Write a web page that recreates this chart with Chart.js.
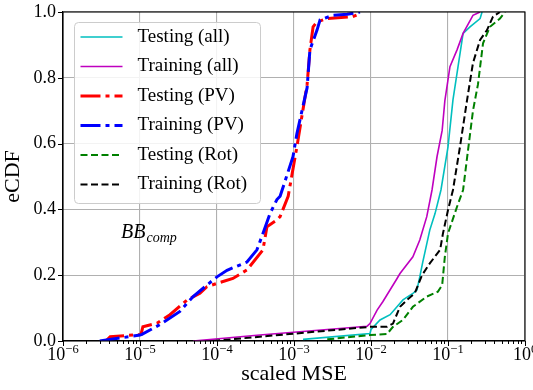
<!DOCTYPE html>
<html><head><meta charset="utf-8">
<script src="https://cdn.jsdelivr.net/npm/chart.js@4/dist/chart.umd.min.js"></script>
<style>html,body{margin:0;padding:0;background:#fff}#wrap{width:533px;height:390px;position:relative}</style>
</head><body><div id="wrap"><canvas id="c" width="533" height="390"></canvas></div>
<script>
// ---- data ----
const seriesLabels = ['Testing (all)', 'Training (all)', 'Testing (PV)', 'Training (PV)', 'Testing (Rot)', 'Training (Rot)'];

const testAllX = [1.31e-3, 9.7e-3, 1.0e-2, 1.31e-2, 1.77e-2, 2.6e-2, 3.5e-2, 3.95e-2, 4.3e-2, 4.7e-2, 5.8e-2, 6.8e-2, 8.1e-2, 0.100, 0.116, 0.135, 0.157, 0.193, 0.261, 0.277];
const testAllY = [0.005, 0.023, 0.035, 0.064, 0.080, 0.125, 0.145, 0.155, 0.195, 0.240, 0.337, 0.388, 0.459, 0.590, 0.733, 0.834, 0.935, 0.955, 0.980, 1.000];

const trainAllX = [4.9e-5, 3.6e-4, 8.9e-3, 9.7e-3, 1.2e-2, 1.43e-2, 2.18e-2, 2.38e-2, 3.5e-2, 4.3e-2, 5.3e-2, 6.2e-2, 7.2e-2, 8.4e-2, 9.1e-2, 0.106, 0.131, 0.157, 0.211, 0.261];
const trainAllY = [0.000, 0.018, 0.045, 0.053, 0.094, 0.120, 0.190, 0.205, 0.256, 0.307, 0.378, 0.459, 0.560, 0.640, 0.730, 0.834, 0.885, 0.935, 0.990, 1.000];

const testPvX = [3.6e-6, 4.1e-6, 8.1e-6, 1.03e-5, 1.09e-5, 1.66e-5, 2.45e-5, 4.1e-5, 6.0e-5, 7.4e-5, 1.0e-4, 1.61e-4, 2.45e-4, 3.95e-4, 4.45e-4, 6.0e-4, 6.6e-4, 8.4e-4, 1.09e-3, 1.48e-3, 1.61e-3, 1.77e-3, 1.99e-3, 2.7e-3, 5.8e-3, 7.2e-3];
const testPvY = [0.000, 0.013, 0.018, 0.020, 0.043, 0.054, 0.080, 0.125, 0.145, 0.165, 0.175, 0.190, 0.216, 0.277, 0.347, 0.368, 0.378, 0.440, 0.590, 0.780, 0.885, 0.955, 0.970, 0.980, 0.986, 0.995];

const trainPvX = [3.0e-6, 1.0e-5, 1.06e-5, 1.82e-5, 3.3e-5, 4.9e-5, 7.4e-5, 1.0e-4, 1.35e-4, 2.45e-4, 3.3e-4, 3.95e-4, 4.9e-4, 6.0e-4, 6.6e-4, 9.7e-4, 1.09e-3, 1.48e-3, 1.61e-3, 1.99e-3, 2.18e-3, 3.2e-3, 4.9e-3, 7.2e-3];
const trainPvY = [0.000, 0.018, 0.020, 0.050, 0.090, 0.135, 0.170, 0.195, 0.215, 0.240, 0.277, 0.327, 0.388, 0.430, 0.440, 0.560, 0.630, 0.770, 0.885, 0.945, 0.976, 0.990, 0.993, 1.000];

const testRotX = [2.7e-3, 9.7e-3, 1.61e-2, 1.93e-2, 2.6e-2, 3.5e-2, 5.3e-2, 7.4e-2, 8.4e-2, 9.1e-2, 0.100, 0.131, 0.157, 0.182, 0.211, 0.245, 0.285, 0.351, 0.473, 0.550];
const testRotY = [0.005, 0.018, 0.021, 0.043, 0.064, 0.104, 0.135, 0.150, 0.170, 0.256, 0.327, 0.408, 0.459, 0.580, 0.700, 0.780, 0.905, 0.955, 0.980, 1.000];

const trainRotX = [8.9e-5, 3.6e-4, 9.7e-3, 1.61e-2, 1.93e-2, 2.38e-2, 2.94e-2, 3.7e-2, 4.6e-2, 5.8e-2, 7.9e-2, 8.6e-2, 0.100, 0.116, 0.143, 0.177, 0.211, 0.261, 0.321, 0.384, 0.473];
const trainRotY = [0.000, 0.013, 0.043, 0.043, 0.053, 0.104, 0.125, 0.145, 0.200, 0.236, 0.277, 0.327, 0.398, 0.459, 0.590, 0.733, 0.845, 0.915, 0.945, 0.986, 1.000];

const xDecadeExponents = [-6, -5, -4, -3, -2, -1, 0];
const yTickValues = [0, 0.2, 0.4, 0.6, 0.8, 1.0];
const xAxisTitle = 'scaled MSE';
const yAxisTitle = 'eCDF';
const annotationMain = 'BB';
const annotationSub = 'comp';

// ---- styling ----
const SERIF = "'Liberation Serif', 'DejaVu Serif', serif";
const styles = [
  {color: '#00bfbf', width: 1.6, dash: []},
  {color: '#bf00bf', width: 1.6, dash: []},
  {color: '#ff0000', width: 3, dash: [20, 5, 4, 5]},
  {color: '#0000ff', width: 3, dash: [20, 5, 4, 5]},
  {color: '#008000', width: 2, dash: [7, 3.5]},
  {color: '#000000', width: 2, dash: [7, 3.5]}
];
const xs = [testAllX, trainAllX, testPvX, trainPvX, testRotX, trainRotX];
const ys = [testAllY, trainAllY, testPvY, trainPvY, testRotY, trainRotY];

const datasets = seriesLabels.map((lab, i) => ({
  label: lab,
  data: xs[i].map((x, j) => ({x: x, y: ys[i][j]})),
  borderColor: styles[i].color,
  backgroundColor: styles[i].color,
  borderWidth: styles[i].width,
  borderDash: styles[i].dash,
  borderCapStyle: 'butt',
  pointRadius: 0,
  tension: 0,
  fill: false,
  order: seriesLabels.length - i
}));

function isDecade(v) {
  const l = Math.log10(v);
  return Math.abs(l - Math.round(l)) < 1e-6;
}

const decorPlugin = {
  id: 'decor',
  afterDraw(chart) {
    const ctx = chart.ctx;
    const a = chart.chartArea;
    const xS = chart.scales.x, yS = chart.scales.y;
    ctx.save();
    // frame
    ctx.strokeStyle = '#000';
    ctx.lineWidth = 1.1;
    ctx.setLineDash([]);
    ctx.strokeRect(a.left, a.top, a.right - a.left, a.bottom - a.top);
    // x ticks
    ctx.lineWidth = 1;
    for (let e = -6; e <= 0; e++) {
      const px = Math.round(xS.getPixelForValue(Math.pow(10, e))) + 0.5;
      ctx.beginPath(); ctx.moveTo(px, a.bottom); ctx.lineTo(px, a.bottom + 5); ctx.stroke();
      if (e < 0) {
        for (let k = 2; k <= 9; k++) {
          const mx = Math.round(xS.getPixelForValue(k * Math.pow(10, e))) + 0.5;
          ctx.beginPath(); ctx.moveTo(mx, a.bottom); ctx.lineTo(mx, a.bottom + 3); ctx.stroke();
        }
      }
    }
    // y ticks
    yTickValues.forEach(v => {
      const py = Math.round(yS.getPixelForValue(v)) + 0.5;
      ctx.beginPath(); ctx.moveTo(a.left - 5, py); ctx.lineTo(a.left, py); ctx.stroke();
    });
    // x tick labels with superscript exponents
    ctx.fillStyle = '#000';
    ctx.textBaseline = 'alphabetic';
    ctx.textAlign = 'left';
    xDecadeExponents.forEach(e => {
      const px = xS.getPixelForValue(Math.pow(10, e));
      const base = '10';
      const exp = (e < 0 ? '\u2212' : '') + Math.abs(e);
      ctx.font = '18px ' + SERIF;
      const wb = ctx.measureText(base).width;
      ctx.font = '12.5px ' + SERIF;
      const we = ctx.measureText(exp).width;
      const start = px - (wb + we) / 2;
      ctx.font = '18px ' + SERIF;
      ctx.fillText(base, start, a.bottom + 19);
      ctx.font = '12.5px ' + SERIF;
      ctx.fillText(exp, start + wb, a.bottom + 12);
    });
    // annotation BB_comp
    ctx.font = 'italic 20px ' + SERIF;
    const ax = a.left + 58, ay = a.top + 226;
    ctx.fillText(annotationMain, ax, ay);
    const wm = ctx.measureText(annotationMain).width;
    ctx.font = 'italic 14px ' + SERIF;
    ctx.fillText(annotationSub, ax + wm + 1, ay + 4);
    // legend
    const lx = a.left + 11.5, ly = a.top + 10.5, lw = 186, lh = 181;
    ctx.beginPath();
    ctx.roundRect(lx, ly, lw, lh, 4);
    ctx.fillStyle = 'rgba(255,255,255,0.85)';
    ctx.fill();
    ctx.strokeStyle = '#cccccc';
    ctx.lineWidth = 1;
    ctx.stroke();
    chart.data.datasets.forEach((ds, i) => {
      const y = a.top + 25 + i * 29.5;
      ctx.strokeStyle = ds.borderColor;
      ctx.lineWidth = ds.borderWidth;
      ctx.setLineDash(ds.borderDash || []);
      ctx.lineCap = 'butt';
      ctx.beginPath(); ctx.moveTo(lx + 6, y); ctx.lineTo(lx + 48, y); ctx.stroke();
      ctx.setLineDash([]);
      ctx.fillStyle = '#000';
      ctx.font = '19px ' + SERIF;
      ctx.textBaseline = 'middle';
      ctx.fillText(ds.label, lx + 63, y);
    });
    ctx.restore();
  }
};

new Chart(document.getElementById('c'), {
  type: 'line',
  data: {datasets: datasets},
  plugins: [decorPlugin],
  options: {
    responsive: false,
    animation: false,
    devicePixelRatio: 1,
    layout: {padding: {top: 12, right: 8, left: 0, bottom: 0}},
    plugins: {legend: {display: false}, tooltip: {enabled: false}},
    scales: {
      x: {
        type: 'logarithmic',
        min: 1e-6, max: 1,
        afterBuildTicks: (scale) => {
          const t = [];
          for (let e = -6; e < 0; e++) for (let k = 1; k <= 9; k++) t.push({value: k * Math.pow(10, e)});
          t.push({value: 1});
          scale.ticks = t;
        },
        ticks: {display: true, autoSkip: false, callback: () => '', font: {size: 17, family: SERIF}},
        grid: {
          drawTicks: false,
          color: (c) => (c.tick && isDecade(c.tick.value)) ? '#b0b0b0' : 'rgba(0,0,0,0)',
          lineWidth: 1.1
        },
        border: {display: true, color: '#000', width: 1.1},
        title: {display: true, text: xAxisTitle, color: '#000', font: {size: 22, family: SERIF}, padding: {top: 0, bottom: 3}},
        afterFit: (s) => { s.height = 49; s.paddingLeft = 0; s.paddingRight = 0; }
      },
      y: {
        type: 'linear',
        min: 0, max: 1,
        afterBuildTicks: (scale) => { scale.ticks = yTickValues.map(v => ({value: v})); },
        ticks: {color: '#000', padding: 7, font: {size: 18, family: SERIF}, callback: (v) => Number(v).toFixed(1)},
        grid: {drawTicks: false, color: '#b0b0b0', lineWidth: 1.1},
        border: {display: true, color: '#000', width: 1.1},
        title: {display: true, text: yAxisTitle, color: '#000', font: {size: 22, family: SERIF}, padding: {top: 0, bottom: 2}},
        afterFit: (s) => { s.width = 63; s.paddingTop = 0; s.paddingBottom = 0; }
      }
    }
  }
});
</script>
</body></html>
